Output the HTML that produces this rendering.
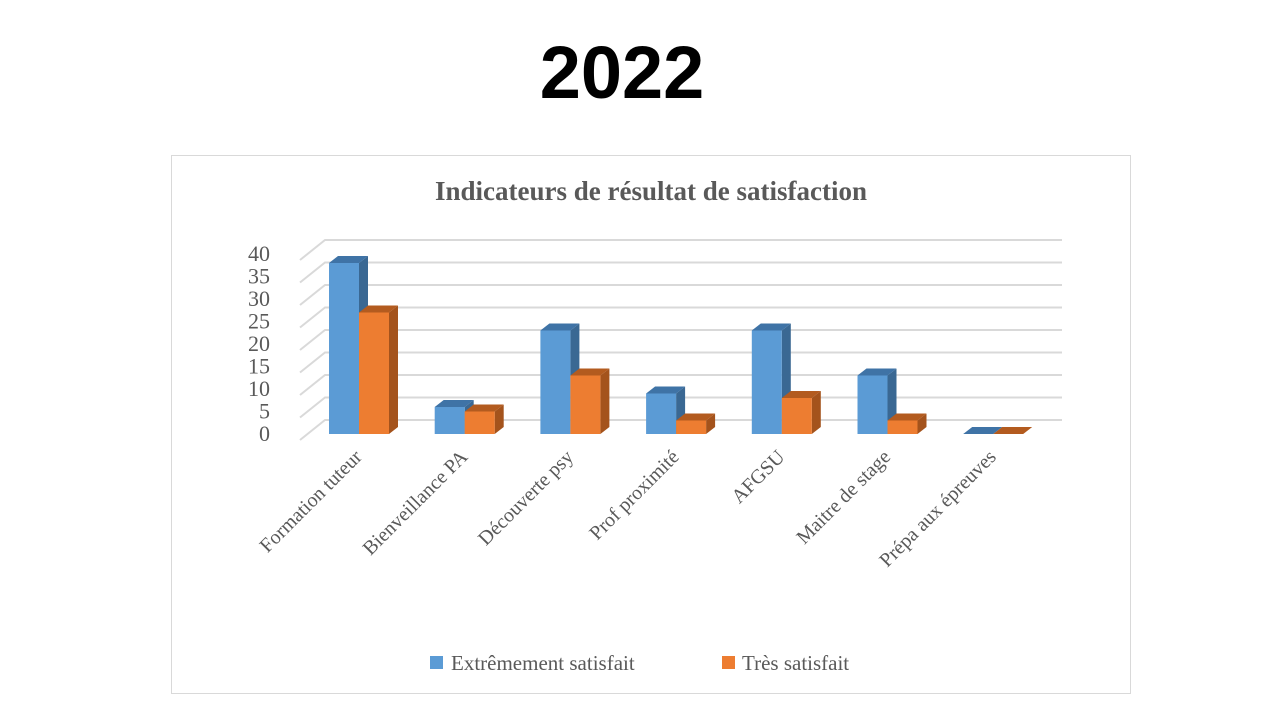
<!DOCTYPE html>
<html><head><meta charset="utf-8"><style>
body{margin:0;width:1280px;height:720px;background:#fff;overflow:hidden}
svg{display:block}
</style></head><body>
<svg id="c" width="1280" height="720">
<text x="622" y="98" text-anchor="middle" font-family="Liberation Sans, sans-serif" font-weight="bold" font-size="74" fill="#000">2022</text>
<rect x="171.5" y="155.5" width="959" height="538" fill="#fff" stroke="#d9d9d9"/>
<text x="651" y="200" text-anchor="middle" font-family="Liberation Serif, serif" font-weight="bold" font-size="27" fill="#595959">Indicateurs de résultat de satisfaction</text>
<g id="grid"></g><g id="bars"></g><g id="labels"></g>
<g>
<rect x="430" y="656" width="13" height="13" fill="#5b9bd5"/>
<text x="451" y="670" font-family="Liberation Serif, serif" font-size="21" fill="#595959">Extrêmement satisfait</text>
<rect x="722" y="656" width="13" height="13" fill="#ed7d31"/>
<text x="742" y="670" font-family="Liberation Serif, serif" font-size="21" fill="#595959">Très satisfait</text>
</g>
</svg>
<script>
const categories=["Formation tuteur","Bienveillance PA","Découverte psy","Prof proximité","AFGSU","Maitre de stage","Prépa aux épreuves"];
const extremement=[38,6,23,9,23,13,0];
const tres=[27,5,13,3,8,3,0];
const yTicks=[0,5,10,15,20,25,30,35,40];
const NS="http://www.w3.org/2000/svg";
function mk(t,a,p){const e=document.createElementNS(NS,t);for(const k in a)e.setAttribute(k,a[k]);p.appendChild(e);return e;}
const baseY=434, scale=4.5, backBase=420, backScale=4.5;
const x0=329, step=105.7, bw=30, dx=9, dy=7;
const yF=v=>baseY-v*scale, yB=v=>backBase-v*backScale;
const grid=document.getElementById('grid'), bars=document.getElementById('bars'), labels=document.getElementById('labels');
yTicks.forEach(t=>{
 const y=yB(t);
 const l=mk('polyline',{points:`300,${y+20} 325,${y} 1062,${y}`,fill:'none',stroke:'#d9d9d9','stroke-width':2},grid);
 
 
 const tx=mk('text',{x:270,y:yF(t)+7,'text-anchor':'end','font-family':'Liberation Serif, serif','font-size':22,fill:'#595959'},labels);
 tx.textContent=t;
 
 
});
function bar(x,v,front,top,side,name){
 const g=mk('g',{},bars);
 
 
 const yt=yF(v);
 mk('polygon',{points:`${x+bw},${yt} ${x+bw+dx},${yt-dy} ${x+bw+dx},${baseY-dy} ${x+bw},${baseY}`,fill:side},g);
 mk('polygon',{points:`${x},${yt} ${x+dx},${yt-dy} ${x+bw+dx},${yt-dy} ${x+bw},${yt}`,fill:top},g);
 if(v>0)mk('rect',{x:x,y:yt,width:bw,height:baseY-yt,fill:front},g);
}
categories.forEach((c,i)=>{
 const x=x0+i*step;
 bar(x,extremement[i],'#5b9bd5','#3f73a6','#3a6893','bar-extremement-'+i);
 bar(x+bw,tres[i],'#ed7d31','#b35b1f','#a4531c','bar-tres-'+i);
 const t=mk('text',{x:x+bw+4,y:458,'text-anchor':'end','font-family':'Liberation Serif, serif','font-size':20,fill:'#595959',transform:`rotate(-45 ${x+bw+4} 458)`},labels);
 t.textContent=c;
 
 
});
</script>
</body></html>
